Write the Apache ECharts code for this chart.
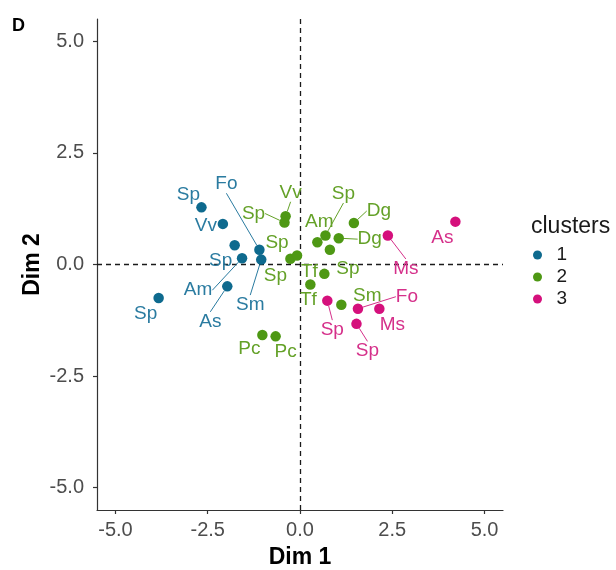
<!DOCTYPE html>
<html>
<head>
<meta charset="utf-8">
<script src="https://cdn.jsdelivr.net/npm/echarts@6/dist/echarts.min.js"></script>
<style>html,body{margin:0;padding:0;background:#fff;}#chart{width:616px;height:570px;}</style>
</head>
<body>
<div id="chart"></div>
<script>
// ---- data ----
var clusterNames = ['1', '2', '3'];
var tickValues = [-5, -2.5, 0, 2.5, 5];

var c1x = [-2.67, -2.09, -1.77, -1.57, -1.10, -1.05, -1.97, -3.83];
var c1y = [1.28, 0.91, 0.43, 0.14, 0.33, 0.11, -0.49, -0.75];
var c1n = ['Sp', 'Vv', 'Sp', 'Am', 'Fo', 'Sm', 'As', 'Sp'];

var c2x = [-0.39, -0.42, -0.26, -0.08, 0.47, 0.69, 1.46, 1.05, 0.81, 0.66, 0.28, 1.12, -1.02, -0.66];
var c2y = [1.08, 0.94, 0.13, 0.20, 0.50, 0.65, 0.93, 0.59, 0.33, -0.21, -0.45, -0.90, -1.58, -1.61];
var c2n = ['Vv', 'Sp', 'Sp', 'Sp', 'Am', 'Sp', 'Dg', 'Dg', 'Sp', 'Tf', 'Tf', 'Sm', 'Pc', 'Pc'];

var c3x = [4.21, 2.38, 0.74, 1.57, 2.15, 1.53];
var c3y = [0.96, 0.65, -0.81, -0.99, -0.99, -1.33];
var c3n = ['As', 'Ms', 'Sp', 'Fo', 'Ms', 'Sp'];

// ---- label placement (pixel offsets from the point, repel-style) and line flag ----
var lay1 = [[-13,-13,0],[-17,2,0],[-14,15,0],[-44,32,1],[-33,-66,1],[-11,45,1],[-17,35,1],[-13,16,0]];
var lay2 = [[5,-24,1],[-31,-9,1],[-15,17,0],[-20,-13,0],[2,-20,0],[18,-42,1],[25,-12,1],[31,1,1],[18,19,0],[-15,-2,0],[-2,15,0],[26,-9,0],[-13,14,0],[10,15,0]];
var lay3 = [[-13,16,0],[18,33,1],[5,29,1],[49,-12,1],[13,16,0],[11,27,1]];

var pointColors = ['#0E6A8E', '#4E9814', '#D5107C'];
var labelColors = ['#2A7BA0', '#64A128', '#D5308A'];
var FONT = '"Liberation Sans", Arial, sans-serif';

function buildData(xs, ys, names, lay) {
  return xs.map(function (x, i) {
    return {
      value: [x, ys[i]],
      name: names[i],
      labelLine: { show: lay[i][2] === 1 }
    };
  });
}

var groups = [
  { x: c1x, y: c1y, n: c1n, lay: lay1 },
  { x: c2x, y: c2y, n: c2n, lay: lay2 },
  { x: c3x, y: c3y, n: c3n, lay: lay3 }
];

var series = groups.map(function (g, k) {
  var s = {
    name: clusterNames[k],
    type: 'scatter',
    symbolSize: 10.5,
    itemStyle: { color: pointColors[k], opacity: 1 },
    data: buildData(g.x, g.y, g.n, g.lay),
    label: {
      show: true,
      position: 'inside',
      formatter: '{b}',
      color: labelColors[k],
      fontSize: 19,
      fontFamily: FONT
    },
    labelLine: {
      show: false,
      lineStyle: { color: labelColors[k], width: 1 }
    },
    labelLayout: function (params) {
      var o = g.lay[params.dataIndex];
      return { dx: o[0], dy: o[1] };
    },
    emphasis: { disabled: true },
    z: 3
  };
  if (k === 0) {
    s.markLine = {
      silent: true,
      symbol: 'none',
      label: { show: false },
      lineStyle: { color: '#1a1a1a', type: [5, 4], width: 1.3 },
      data: [{ xAxis: 0 }, { yAxis: 0 }],
      z: 1
    };
  }
  return s;
});

var axisCommon = {
  type: 'value',
  min: -5.5,
  max: 5.5,
  splitLine: { show: false },
  axisLine: { show: true, onZero: false, lineStyle: { color: '#333', width: 1.2 } },
  axisTick: { show: true, length: 4, customValues: tickValues, lineStyle: { color: '#333', width: 1.2 } },
  nameLocation: 'middle',
  nameMoveOverlap: false,
  nameTextStyle: { fontFamily: FONT, fontWeight: 'bold', fontSize: 23, color: '#000' }
};

var chart = echarts.init(document.getElementById('chart'), null, { renderer: 'canvas' });
chart.setOption({
  backgroundColor: '#fff',
  animation: false,
  grid: { left: 97, right: 113, top: 19, bottom: 60, containLabel: false, outerBoundsMode: 'none' },
  xAxis: Object.assign({}, axisCommon, {
    name: 'Dim 1',
    nameGap: 36,
    axisLabel: {
      customValues: tickValues, margin: 10, fontSize: 20, fontFamily: FONT, color: '#4D4D4D',
      formatter: function (v) { return v.toFixed(1); }
    }
  }),
  yAxis: Object.assign({}, axisCommon, {
    name: 'Dim 2',
    nameGap: 53,
    axisLabel: {
      customValues: tickValues, margin: 13, fontSize: 20, fontFamily: FONT, color: '#4D4D4D',
      formatter: function (v) { return v.toFixed(1); }
    }
  }),
  legend: {
    data: clusterNames,
    orient: 'vertical',
    left: 528,
    top: 239,
    icon: 'circle',
    itemWidth: 28,
    itemHeight: 9,
    itemGap: 0,
    textStyle: { fontFamily: FONT, fontSize: 19, color: '#1a1a1a', lineHeight: 22 },
    selectedMode: false
  },
  graphic: [
    { type: 'text', left: 531, top: 215, style: { text: 'clusters', fontFamily: FONT, fontSize: 23, fill: '#1a1a1a' } },
    { type: 'text', left: 12, top: 17, style: { text: 'D', fontFamily: FONT, fontSize: 18, fontWeight: 'bold', fill: '#000' } }
  ],
  series: series
});
</script>
</body>
</html>
